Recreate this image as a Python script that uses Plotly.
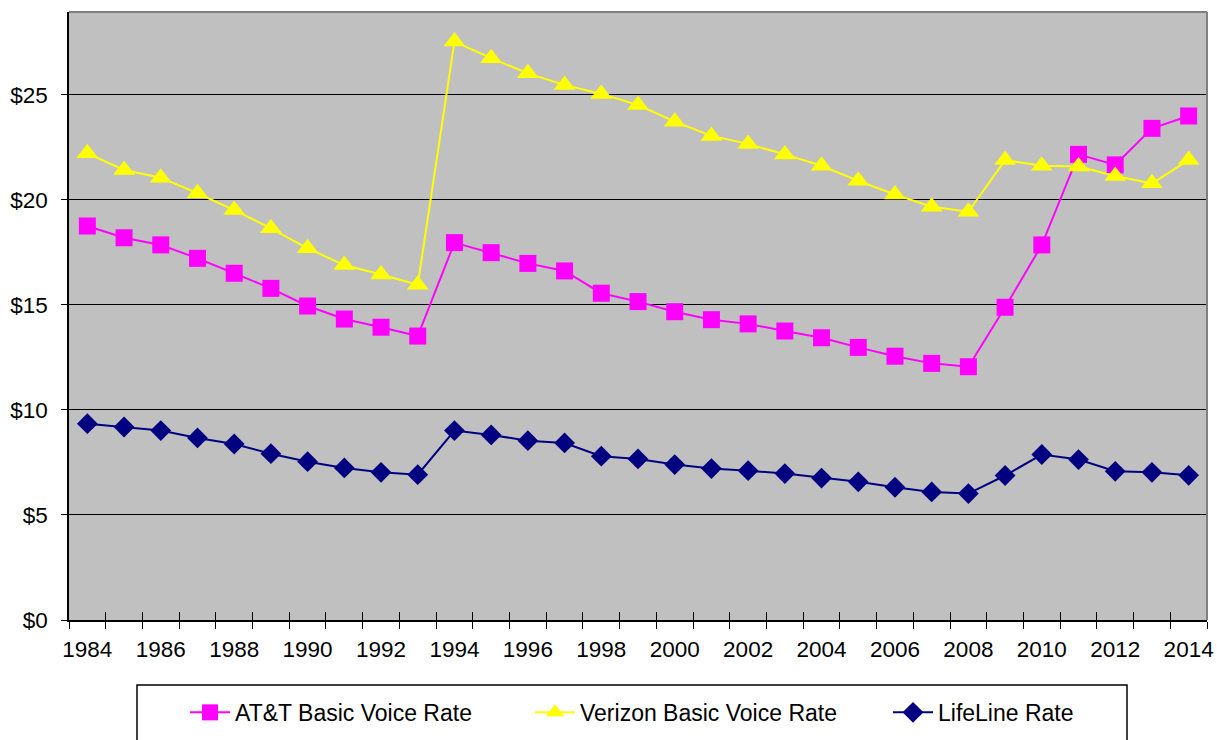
import plotly.graph_objects as go

years = list(range(1984, 2015))
tick_years = list(range(1984, 2015, 2))
tick_labels = [str(y) for y in tick_years]

att = [18.76, 18.20, 17.86, 17.22, 16.51, 15.79, 14.95, 14.33, 13.94, 13.52,
       17.97, 17.49, 16.98, 16.62, 15.56, 15.16, 14.68, 14.30, 14.10, 13.76,
       13.44, 12.98, 12.56, 12.22, 12.06, 14.89, 17.86, 22.17, 21.67, 23.41, 24.00]
verizon = [22.22, 21.43, 21.06, 20.32, 19.52, 18.65, 17.70, 16.90, 16.45, 15.96,
           27.54, 26.75, 26.03, 25.48, 25.05, 24.52, 23.73, 23.05, 22.67, 22.17,
           21.63, 20.91, 20.26, 19.68, 19.44, 21.90, 21.63, 21.59, 21.14, 20.79, 21.90]
lifeline = [9.35, 9.19, 9.02, 8.67, 8.38, 7.92, 7.54, 7.24, 7.03, 6.92,
            9.02, 8.81, 8.54, 8.43, 7.80, 7.67, 7.40, 7.21, 7.11, 6.97,
            6.76, 6.58, 6.32, 6.10, 6.02, 6.88, 7.88, 7.64, 7.08, 7.03, 6.89]
y_ticks = [0, 5, 10, 15, 20, 25]
y_labels = ["$" + str(v) for v in y_ticks]

FONT = "Liberation Sans, Arial, sans-serif"
FS = 22.5
LFS = 23
half = [y - 0.5 for y in years] + [years[-1] + 0.5]
xr = [years[0] - 0.5, years[-1] + 0.5]

fig = go.Figure()
fig.add_trace(go.Scatter(x=years, y=att, name="AT&T Basic Voice Rate", mode="lines+markers",
                         legend="legend",
                         line=dict(color="#FF00FF", width=2),
                         marker=dict(symbol="square", size=17, color="#FF00FF")))
fig.add_trace(go.Scatter(x=years, y=verizon, name="Verizon Basic Voice Rate", mode="lines+markers",
                         legend="legend2",
                         line=dict(color="#FFFF00", width=2),
                         marker=dict(symbol="triangle-up", size=19, color="#FFFF00")))
fig.add_trace(go.Scatter(x=years, y=lifeline, name="LifeLine Rate", mode="lines+markers",
                         legend="legend3",
                         line=dict(color="#000080", width=2),
                         marker=dict(symbol="diamond", size=16, color="#000080")))
# helper trace for the second (inside tick) x axis
fig.add_trace(go.Scatter(x=[years[0]], y=[None], xaxis="x2", showlegend=False,
                         hoverinfo="skip", mode="lines"))

leg_common = dict(orientation="h", xanchor="left", y=-0.152, yanchor="middle",
                  bgcolor="rgba(0,0,0,0)", borderwidth=0,
                  font=dict(family=FONT, size=LFS, color="black"), itemwidth=40)

fig.update_layout(
    width=1217, height=740,
    margin=dict(l=69, r=10, t=12, b=120, autoexpand=False),
    paper_bgcolor="white", plot_bgcolor="#C0C0C0",
    font=dict(family=FONT, size=FS, color="black"),
    xaxis=dict(range=xr, tickmode="array", tickvals=tick_years, ticktext=tick_labels,
               ticks="", showgrid=False, zeroline=False, ticklabelstandoff=8,
               ticklabeloverflow="allow",
               showline=True, linecolor="black", linewidth=1.5,
               minor=dict(tickmode="array", tickvals=half, ticks="outside", ticklen=7,
                          tickcolor="black", tickwidth=1, showgrid=False),
               tickfont=dict(size=FS)),
    xaxis2=dict(range=xr, overlaying="x", anchor="y", side="bottom",
                tickmode="array", tickvals=half, ticks="inside", ticklen=8,
                tickcolor="black", tickwidth=1, showticklabels=False,
                showgrid=False, zeroline=False, showline=False),
    yaxis=dict(range=[0, 28.95], tickmode="array", tickvals=y_ticks, ticktext=y_labels,
               ticks="outside", ticklen=6, tickcolor="black", ticklabelstandoff=9,
               showgrid=True, gridcolor="black", gridwidth=1,
               zeroline=False, showline=True, linecolor="black", linewidth=1.5,
               tickfont=dict(size=FS)),
    legend=dict(x=(185 - 69) / 1138, **leg_common),
    legend2=dict(x=(530 - 69) / 1138, **leg_common),
    legend3=dict(x=(888 - 69) / 1138, **leg_common),
    shapes=[
        dict(type="line", xref="paper", yref="paper", x0=0, x1=1, y0=1, y1=1,
             line=dict(color="#808080", width=2)),
        dict(type="line", xref="paper", yref="paper", x0=1, x1=1, y0=0, y1=1,
             line=dict(color="#808080", width=2)),
        dict(type="rect", xref="paper", yref="paper",
             x0=(137 - 69) / 1138, x1=(1127 - 69) / 1138,
             y0=-(685 - 620) / 608, y1=-(760 - 620) / 608,
             line=dict(color="black", width=1.5), fillcolor="rgba(0,0,0,0)"),
    ],
)

fig.write_html("out.html", config={"displayModeBar": False},
               post_script="document.body.style.margin='0';")
